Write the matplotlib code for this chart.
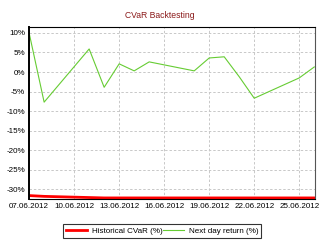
import pandas as pd
import matplotlib
matplotlib.use("Agg")
import matplotlib.pyplot as plt
import matplotlib.dates as mdates
from matplotlib.ticker import FuncFormatter

plt.rcParams['font.family'] = ['Liberation Sans', 'DejaVu Sans']

# data (percent)
dates = ['2012-06-07', '2012-06-08', '2012-06-11', '2012-06-12', '2012-06-13',
         '2012-06-14', '2012-06-15', '2012-06-18', '2012-06-19', '2012-06-20',
         '2012-06-21', '2012-06-22', '2012-06-25', '2012-06-26']
next_day_return = [10.0, -7.7, 5.9, -3.9, 2.1, 0.3, 2.6, 0.3, 3.6, 3.9,
                   -1.2, -6.7, -1.5, 1.3]
hist_cvar = [-31.6, -31.8, -32.1, -32.2, -32.2, -32.2, -32.2, -32.2, -32.2,
             -32.2, -32.2, -32.2, -32.2, -32.2]
tick_dates = ['2012-06-07', '2012-06-10', '2012-06-13', '2012-06-16',
              '2012-06-19', '2012-06-22', '2012-06-25']
y_ticks = [-30, -25, -20, -15, -10, -5, 0, 5, 10]

x = pd.to_datetime(dates)

fig = plt.figure(figsize=(3.2, 2.44), dpi=100)
ax = fig.add_axes([0.091, 0.184, 0.893, 0.705])

ax.plot(x, hist_cvar, color='#ff0000', lw=2.0, label='Historical CVaR (%)')
ax.plot(x, next_day_return, color='#66cc33', lw=0.8, label='Next day return (%)')

ax.set_xlim(pd.Timestamp('2012-06-07'), pd.Timestamp('2012-06-26 01:00'))
ax.set_ylim(-32.5, 11.5)
ax.set_xticks(pd.to_datetime(tick_dates))
ax.xaxis.set_major_formatter(mdates.DateFormatter('%d.%m.%Y'))
ax.set_yticks(y_ticks)
ax.yaxis.set_major_formatter(FuncFormatter(lambda v, p: '%d%%' % v))
ax.tick_params(length=0, labelsize=5.8, pad=3)

ax.grid(True, color='#c8c8c8', lw=0.7, linestyle=(0, (2.5, 2)))
for s in ['top', 'bottom', 'right']:
    ax.spines[s].set_linewidth(0.8)
ax.spines['left'].set_linewidth(1.4)
ax.spines['right'].set_color('#555555')

fig.text(0.5, 0.937, 'CVaR Backtesting', ha='center', va='center',
         fontsize=6.2, color='#8b1a1a')

leg = fig.legend(loc='center', bbox_to_anchor=(0.507, 0.053), ncol=2,
                 fontsize=5.8, frameon=True, fancybox=False, edgecolor='black',
                 handlelength=2.6, handletextpad=0.6, columnspacing=0.1,
                 borderpad=0.35, borderaxespad=0)
leg.get_frame().set_linewidth(0.8)

fig.savefig('out.png', dpi=100)
